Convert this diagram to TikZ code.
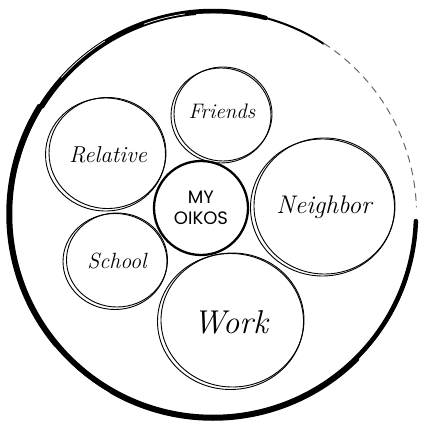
\documentclass[tikz,border=0pt]{standalone}
\usepackage{fontspec}
\newfontfamily\oikosfont{Poppins}

\begin{document}
\begin{tikzpicture}[
    x=1pt, y=-1pt,
    hand/.style={font=\itshape\fontsize{#1}{#1}\selectfont, anchor=base, inner sep=0pt},
    ring/.style={line width=0.9pt},
    brush/.style={line cap=round},
    streak/.style={white, line width=0.7pt},
    core/.style={draw, circle, line width=2.3pt, minimum size=94pt, inner sep=0pt,
                 align=center, font=\oikosfont\fontsize{18}{21}\selectfont}
]
\useasboundingbox (0,0) rectangle (420,428);

% brush ring
\coordinate (rim) at (213,214);
\draw[brush, line width=4.5pt] (rim) ++(2:203) arc[start angle=2, end angle=285, radius=203];
\draw[brush, line width=1.5pt] (rim) ++(18:204.5) arc[start angle=18, end angle=238, radius=204.5];
\draw[brush, line width=3.5pt] (rim) ++(45:205) arc[start angle=45, end angle=212, radius=205];
\draw[brush, line width=1.5pt] (rim) ++(195:201.5) arc[start angle=195, end angle=282, radius=201.5];
\draw[brush, line width=2.5pt] (rim) ++(212:201) arc[start angle=212, end angle=265, radius=201];
\draw[brush, line width=2pt] (rim) ++(285:203) arc[start angle=285, end angle=303, radius=203];
\draw[brush, line width=1pt, black!60, dash pattern=on 7pt off 6pt]
  (rim) ++(303:203.5) arc[start angle=303, end angle=358, radius=203.5];
\draw[streak] (rim) ++(222:204) arc[start angle=222, end angle=238, radius=204];
\draw[streak] (rim) ++(250:202) arc[start angle=250, end angle=262, radius=202];
\draw[streak] (rim) ++(120:207) arc[start angle=120, end angle=140, radius=207];

% bubbles
\draw[ring] (221,115.5) circle[x radius=50, y radius=47.5];
\draw[ring] (223,114) circle[x radius=49, y radius=47];
\draw[ring] (105.5,154.5) circle[x radius=60, y radius=56.5];
\draw[ring] (107.5,153) circle[x radius=58.5, y radius=55.5];
\draw[ring] (322.5,207.5) circle[x radius=72, y radius=68.5];
\draw[ring] (324.5,206) circle[x radius=70.5, y radius=68];
\draw[ring] (115,261.5) circle[x radius=52, y radius=48];
\draw[ring] (117,260) circle[x radius=50.5, y radius=47];
\draw[ring] (230.5,321.5) circle[x radius=73, y radius=68];
\draw[ring] (232.5,320) circle[x radius=71.5, y radius=67];

\node[core] (oikos) at (201,208) {MY\\OIKOS};

\node[hand=21] (friends) at (222,118) {Friends};
\node[hand=23] (relative) at (108,162) {Relative};
\node[hand=25.5] (neighbor) at (324,213) {Neighbor};
\node[hand=22] (school) at (117,268) {School};
\node[hand=33] (work) at (230.5,333) {Work};

\end{tikzpicture}
\end{document}
